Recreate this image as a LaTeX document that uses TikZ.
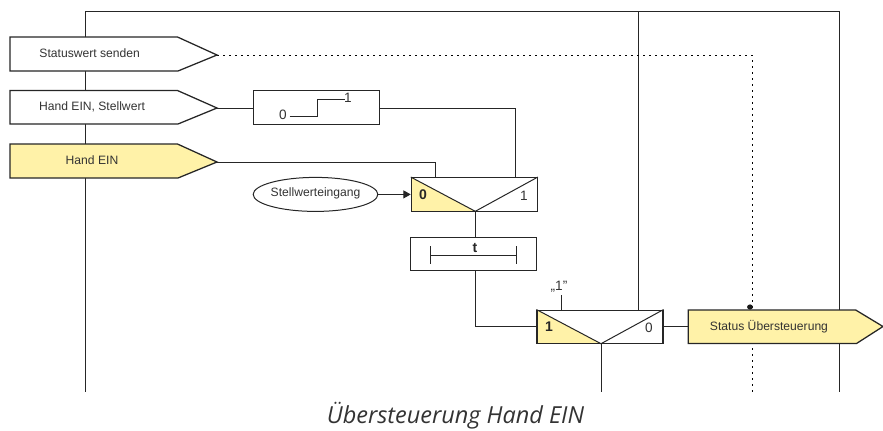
\documentclass[tikz,border=0pt]{standalone}
\usepackage{fontspec}
\setmainfont{Liberation Sans}
\newfontfamily\capfont{Open Sans}
\usetikzlibrary{arrows.meta,calc,shapes.geometric}
\definecolor{hl}{HTML}{FFF2A8}
\definecolor{ink}{HTML}{333333}
\tikzset{
  wire/.style={line width=0.75pt,draw=black!85},
  dotwire/.style={line width=0.75pt,draw=black,dash pattern=on 1.5pt off 3pt},
  sig/.style={line width=0.95pt,draw=black!85,fill=white,line join=miter},
  sighl/.style={sig,fill=hl},
  lbl/.style={font=\fontsize{9.1}{10}\selectfont,text=ink,inner sep=0pt},
  digit/.style={font=\fontsize{10.2}{11}\selectfont,text=ink,inner sep=0pt},
  bold/.style={font=\fontsize{10.5}{11}\selectfont\bfseries,text=black!85,inner sep=0pt},
  box/.style={draw=black!85,line width=0.85pt,inner sep=0pt,minimum width=94.5pt,minimum height=25.2pt},
  oval/.style={draw=black!85,line width=0.75pt,fill=white,ellipse,inner sep=0pt,minimum width=93.5pt,minimum height=25.5pt},
  captiontext/.style={font=\capfont\itshape\fontsize{17.6}{20}\selectfont,text=black!80,inner sep=0pt,anchor=base}
}
\begin{document}
\begin{tikzpicture}[x=0.75pt,y=-0.75pt]
\useasboundingbox (0,0) rectangle (883,430);
% named anchor points
\coordinate (frameTL) at (85.5,11);
\coordinate (frameBL) at (85.5,391.5);
\coordinate (frameTR) at (839.7,11);
\coordinate (frameBR) at (839.7,391.5);
\coordinate (midTop) at (638,11);
\coordinate (tipA) at (217,55);
\coordinate (tipB) at (217,108);
\coordinate (tipC) at (217,162);
\coordinate (tipD) at (883,326.5);
\coordinate (dotCorner) at (752,55);
\coordinate (dotEnd) at (752,391.5);
\coordinate (muxTwoDown) at (601,391.5);
\coordinate (oneTop) at (561.3,295);
\coordinate (stepA) at (289.5,116);
\coordinate (stepB) at (317.3,116);
\coordinate (stepC) at (317.3,99.3);
\coordinate (stepD) at (345,99.3);
\coordinate (timerL) at (430.7,255);
\coordinate (timerR) at (516.3,255);
% frame
\draw[wire] (frameBL) -- (frameTL) -- (frameTR) -- (frameBR);
\draw[wire] (midTop) -- (638,310);
\draw[dotwire] (tipA) -- (dotCorner) -- (dotEnd);
% signal shapes
\draw[sig] (10,37) -- (177.5,37) -- (tipA) -- (178,71) -- (10,71) -- cycle;
\draw[sig] (10,90.5) -- (177.5,90.5) -- (tipB) -- (178,124) -- (10,124) -- cycle;
\draw[sighl] (10,144) -- (177.5,144) -- (tipC) -- (178,178) -- (10,178) -- cycle;
\node[lbl] (tA) at (89.7,53.5) {Statuswert senden};
\node[lbl] (tB) at (92,106.5) {Hand EIN, Stellwert};
\node[lbl] (tC) at (92,160.5) {Hand EIN};
% step box
\node[box] (stepbox) at (316.7,107.5) {};
\node[digit] (stepZero) at (283,115) {0};
\node[digit] (stepOne) at (348,98) {1};
\draw[wire] (stepA) -- (stepB) -- (stepC) -- (stepD);
\draw[wire] (tipB) -- (tipB -| stepbox.west);
% mux 1
\fill[hl] (411.3,177.5) -- (475.3,211.3) -- (411.3,211.3) -- cycle;
\node[box] (muxA) at (474.3,194.4) {};
\draw[wire] (muxA.north west) -- (475.3,211.3) -- (muxA.north east);
\node[bold] (muxAl) at (423,195) {0};
\node[digit] (muxAr) at (524,195.5) {1};
\draw[wire] (stepbox.east |- tipB) -| (515.7,177.5);
\draw[wire] (tipC) -| (435,177.5);
\node[oval] (eing) at (315.5,194.4) {};
\node[lbl] (eingT) at (315.6,193.6) {Stellwerteingang};
\draw[wire,-{Triangle[length=5.5pt,width=6pt]}] (eing.east) -- (muxA.west);
% timer
\node[box] (timer) at (473.7,254) {};
\node[bold] (timerT) at (475,248) {t};
\draw[wire,line width=0.6pt] (timerL) -- (timerR);
\draw[wire,line width=0.6pt] (430.7,246) -- (430.7,264);
\draw[wire,line width=0.6pt] (516.3,246) -- (516.3,264);
\draw[wire] (475.3,211.3) -- (475.3,237);
% mux 2
\fill[hl] (536.8,310) -- (601,343.7) -- (536.8,343.7) -- cycle;
\node[box] (muxB) at (600,326.9) {};
\draw[wire] (muxB.north west) -- (601,343.7) -- (muxB.north east);
\node[bold] (muxBl) at (549,327) {1};
\node[digit] (muxBr) at (649,327.5) {0};
\draw[wire] (475.5,271) |- (muxB.west);
\draw[wire] (oneTop) -- (561.3,310);
\node[digit] (oneT) at (559,286.5) {„1"};
\draw[wire] (601,343.7) -- (muxTwoDown);
% output
\draw[sighl] (688.3,310) -- (855.7,310) -- (tipD) -- (856.5,343.5) -- (688.3,343.5) -- cycle;
\node[lbl] (tD) at (769,326.7) {Status Übersteuerung};
\draw[wire] (muxB.east) -- (muxB.east -| 688.3,0);
\fill[black!90] (750,307) ellipse (2.9 and 2.6);
\node[captiontext] (caption) at (455.5,423.5) {Übersteuerung Hand EIN};
\end{tikzpicture}
\end{document}
